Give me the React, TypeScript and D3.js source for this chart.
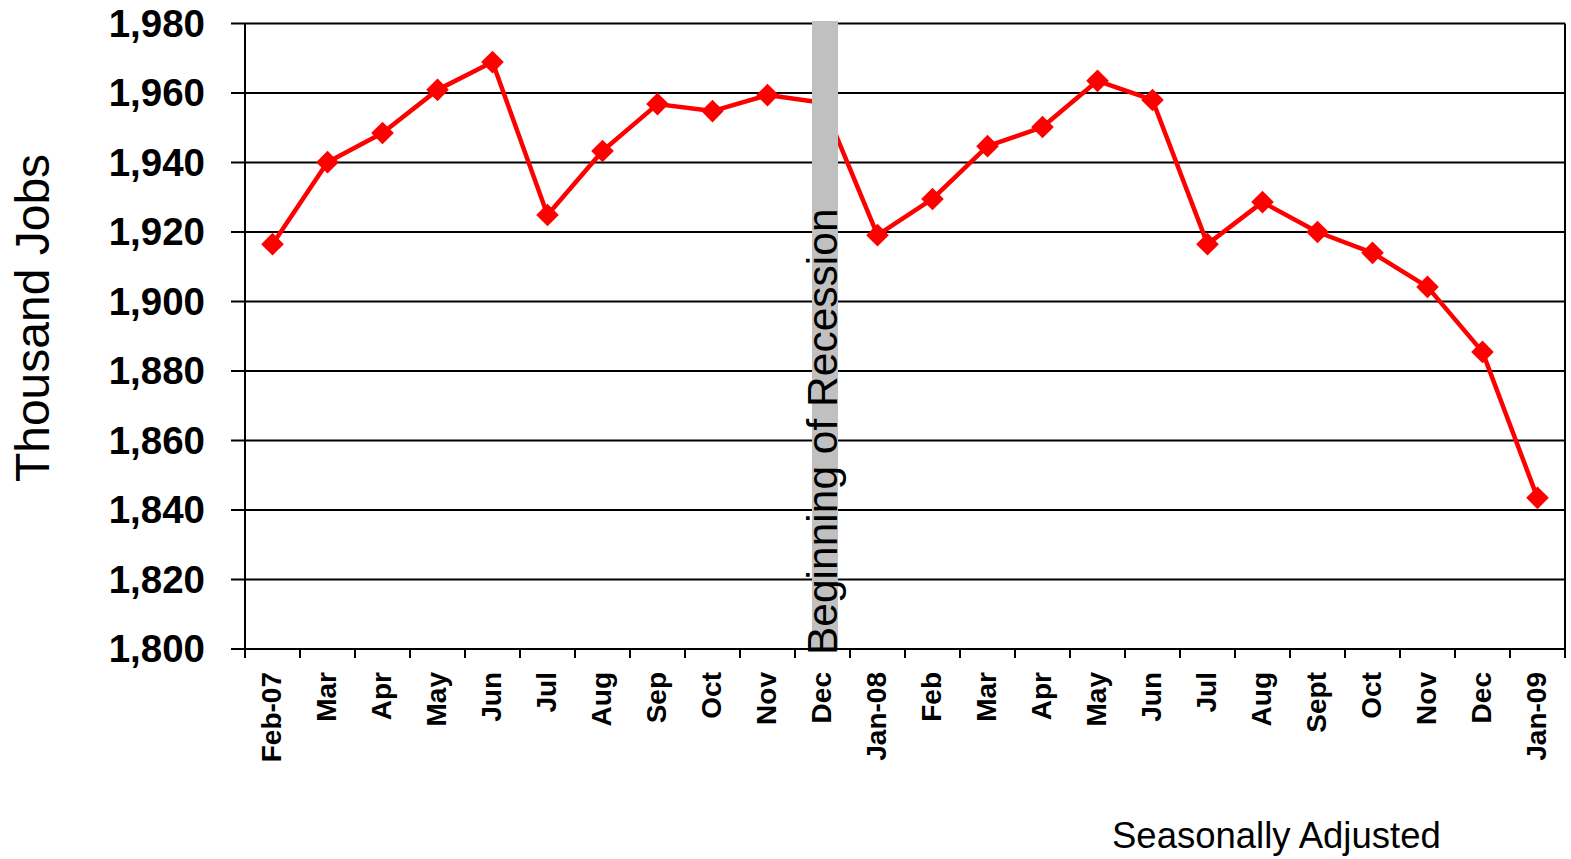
import React from "react";
import * as d3 from "d3";

const categories = [
  "Feb-07", "Mar", "Apr", "May", "Jun", "Jul", "Aug", "Sep", "Oct", "Nov", "Dec",
  "Jan-08", "Feb", "Mar ", "Apr ", "May ", "Jun ", "Jul ", "Aug ", "Sept", "Oct ", "Nov ", "Dec ", "Jan-09",
];
const jobs = [
  1916.5, 1940.1, 1948.5, 1960.9, 1968.9, 1924.9, 1943.3, 1956.8, 1954.8, 1959.4, 1957.2,
  1919.1, 1929.5, 1944.7, 1950.2, 1963.5, 1958.0, 1916.5, 1928.6, 1920.0, 1914.0, 1904.2, 1885.5, 1843.5,
];
const yTicks = [1800, 1820, 1840, 1860, 1880, 1900, 1920, 1940, 1960, 1980];
const recessionCategory = "Dec";
const recessionLabel = "Beginning of Recession";
const yTitle = "Thousand Jobs";
const note = "Seasonally Adjusted";

const W = 1571;
const H = 859;
const left = 245;
const right = 1565;
const top = 23.5;
const bottom = 649;
const font = "'Liberation Sans', Arial, Helvetica, sans-serif";

export default function App() {
  const x = d3.scaleBand<string>().domain(categories).range([left, right]).padding(0);
  const y = d3.scaleLinear().domain([1800, 1980]).range([bottom, top]);
  const cx = (c: string) => (x(c) as number) + x.bandwidth() / 2;
  const line = d3
    .line<number>()
    .x((_, i) => cx(categories[i]))
    .y((d) => y(d));
  const diamond = d3.symbol().type(d3.symbolSquare).size(16 * 16)();
  const fmt = d3.format(",");
  const barC = cx(recessionCategory) + 2.5;
  const tickEdges = categories.map((c) => x(c) as number).concat([right]);

  return (
    <svg
      width={W}
      height={H}
      style={{ position: "absolute", left: 0, top: 0, background: "#fff" }}
      fontFamily={font}
    >
      {/* gridlines */}
      {yTicks.map((t) => (
        <line key={"g" + t} x1={231} x2={right} y1={y(t)} y2={y(t)} stroke="#000" strokeWidth={2} />
      ))}
      {/* right border */}
      <line x1={right} x2={right} y1={top} y2={bottom} stroke="#000" strokeWidth={2} />
      {/* data line */}
      <path d={line(jobs) || ""} fill="none" stroke="#ff0000" strokeWidth={4.5} strokeLinejoin="round" />
      {jobs.map((v, i) => (
        <path
          key={"m" + i}
          d={diamond || ""}
          transform={`translate(${cx(categories[i])},${y(v)}) rotate(45)`}
          fill="#ff0000"
        />
      ))}
      {/* recession bar */}
      <rect x={barC - 13} y={21} width={26} height={bottom - 21} fill="#c0c0c0" />
      {/* y axis */}
      <line x1={left} x2={left} y1={top} y2={bottom} stroke="#000" strokeWidth={2} />
      {/* x axis */}
      <line x1={231} x2={right} y1={bottom} y2={bottom} stroke="#000" strokeWidth={2} />
      {tickEdges.map((tx, i) => (
        <line key={"t" + i} x1={tx} x2={tx} y1={bottom} y2={658} stroke="#000" strokeWidth={2} />
      ))}
      {/* recession label */}
      <text
        transform={`translate(${barC + 12},655) rotate(-90)`}
        fontSize={42.5}
        textAnchor="start"
        fill="#000"
      >
        {recessionLabel}
      </text>
      {/* y tick labels */}
      {yTicks.map((t) => (
        <text
          key={"yl" + t}
          x={205}
          y={y(t)}
          dy="0.35em"
          textAnchor="end"
          fontSize={38.5}
          fontWeight="bold"
          fill="#000"
        >
          {fmt(t)}
        </text>
      ))}
      {/* x tick labels */}
      {categories.map((c) => (
        <text
          key={"xl" + c}
          transform={`translate(${cx(c) - 1},672) rotate(-90)`}
          dy="0.35em"
          textAnchor="end"
          fontSize={28}
          fontWeight="bold"
          fill="#000"
        >
          {c.trim()}
        </text>
      ))}
      {/* y title */}
      <text
        transform={`translate(49,318) rotate(-90)`}
        textAnchor="middle"
        fontSize={48}
        fill="#000"
      >
        {yTitle}
      </text>
      {/* note */}
      <text x={1112} y={848} fontSize={36.5} fill="#000">
        {note}
      </text>
    </svg>
  );
}
